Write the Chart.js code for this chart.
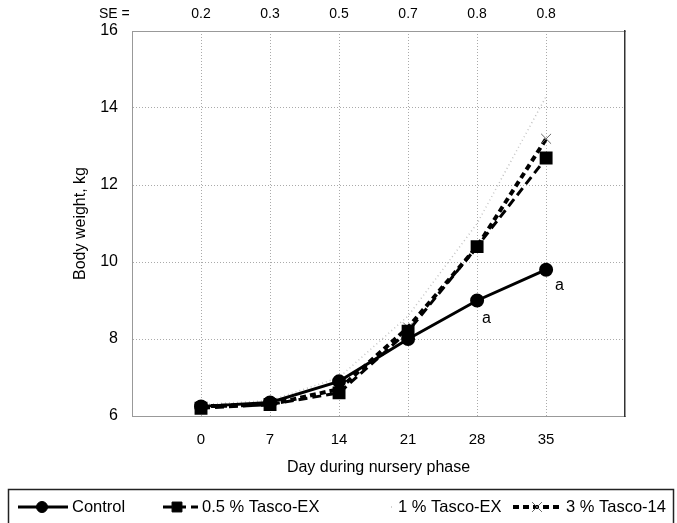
<!DOCTYPE html>
<html>
<head>
<meta charset="utf-8">
<script src="https://cdn.jsdelivr.net/npm/chart.js@4.4.0/dist/chart.umd.min.js"></script>
<style>
html,body{margin:0;padding:0;background:#fff;}
#wrap{width:677px;height:523px;position:relative;}
</style>
</head>
<body>
<div id="wrap"><canvas id="c" width="677" height="523"></canvas></div>
<script>
// ---- data ----
const days = [0, 7, 14, 21, 28, 35];
const seLabels = ['0.2', '0.3', '0.5', '0.7', '0.8', '0.8'];
const yTicks = [6, 8, 10, 12, 14, 16];
const control = [6.25, 6.35, 6.9, 8.0, 9.0, 9.8];
const tasco05 = [6.2, 6.3, 6.6, 8.2, 10.4, 12.7];
const tasco1 = [6.3, 6.4, 7.0, 8.6, 11.0, 14.3];
const tasco3 = [6.25, 6.3, 6.7, 8.3, 10.4, 13.2];
const seriesNames = ['Control', '0.5 % Tasco-EX', '1 % Tasco-EX', '3 % Tasco-14'];
const sigMarks = [{dayIndex: 4, text: 'a'}, {dayIndex: 5, text: 'a'}];

const FONT = '"Liberation Sans", Arial, sans-serif';
const pts = arr => arr.map((v, i) => ({x: days[i], y: v}));

const datasets = [
  {label: seriesNames[0], data: pts(control), borderColor: '#000', backgroundColor: '#000',
   borderWidth: 3, pointStyle: 'circle', pointRadius: 5.5, order: 1},
  {label: seriesNames[1], data: pts(tasco05), borderColor: '#000', backgroundColor: '#000',
   borderWidth: 3, borderDash: [9, 5], pointStyle: 'rect', pointRadius: 7, order: 2},
  {label: seriesNames[2], data: pts(tasco1), borderColor: 'rgba(170,170,170,0.7)', backgroundColor: 'rgba(170,170,170,0.7)',
   borderWidth: 1.5, borderDash: [1, 3], pointRadius: 0, order: 4},
  {label: seriesNames[3], data: pts(tasco3), borderColor: '#000', backgroundColor: '#000',
   borderWidth: 4, borderDash: [6, 4], pointStyle: 'crossRot', pointRadius: 7,
   pointBorderColor: '#666', pointBorderWidth: 1, order: 3}
];

const extrasPlugin = {
  id: 'extras',
  afterDraw(chart) {
    const ctx = chart.ctx;
    const xs = chart.scales.x, ys = chart.scales.y;
    ctx.save();
    // SE label
    ctx.fillStyle = '#000';
    ctx.font = '14px ' + FONT;
    ctx.textBaseline = 'middle';
    ctx.textAlign = 'left';
    ctx.fillText('SE =', 99, 14);
    // significance letters
    ctx.font = '16px ' + FONT;
    sigMarks.forEach(m => {
      const px = xs.getPixelForValue(days[m.dayIndex]);
      const py = ys.getPixelForValue(control[m.dayIndex]);
      const dx = m.dayIndex === 5 ? 9 : 5;
      const dy = m.dayIndex === 5 ? 16 : 18;
      ctx.fillText(m.text, px + dx, py + dy);
    });
    // legend box
    ctx.strokeStyle = '#222';
    ctx.lineWidth = 1.5;
    ctx.strokeRect(8.5, 489.5, 665, 50);
    const ly = 507;
    const items = [
      {x0: 18, x1: 68, mx: 42, tx: 72, ds: datasets[0]},
      {x0: 163, x1: 198, mx: 177, tx: 202, ds: datasets[1]},
      {x0: 391, x1: 394, mx: null, tx: 398, ds: datasets[2]},
      {x0: 513, x1: 563, mx: 537, tx: 566, ds: datasets[3]}
    ];
    items.forEach(it => {
      const ds = it.ds;
      ctx.save();
      ctx.strokeStyle = ds.borderColor;
      ctx.lineWidth = ds.borderWidth;
      ctx.setLineDash(ds.borderDash || []);
      ctx.beginPath();
      ctx.moveTo(it.x0, ly); ctx.lineTo(it.x1, ly);
      ctx.stroke();
      ctx.restore();
      if (it.mx !== null) {
        ctx.save();
        ctx.fillStyle = ds.backgroundColor;
        ctx.strokeStyle = ds.pointBorderColor || ds.borderColor;
        ctx.lineWidth = ds.pointBorderWidth || 1;
        Chart.helpers.drawPoint(ctx, {pointStyle: ds.pointStyle, radius: ds.pointRadius, rotation: 0, borderWidth: 1}, it.mx, ly);
        ctx.restore();
      }
      ctx.fillStyle = '#000';
      ctx.font = '16.5px ' + FONT;
      ctx.textAlign = 'left';
      ctx.textBaseline = 'middle';
      ctx.fillText(ds.label, it.tx, ly);
    });
    ctx.restore();
  }
};

new Chart(document.getElementById('c'), {
  type: 'line',
  data: {datasets},
  plugins: [extrasPlugin],
  options: {
    responsive: false,
    animation: false,
    layout: {padding: {left: 10, right: 52, top: 0, bottom: 43}},
    plugins: {legend: {display: false}, tooltip: {enabled: false}},
    scales: {
      x: {
        type: 'linear', position: 'bottom', min: -7, max: 43,
        afterBuildTicks: s => { s.ticks = days.map(v => ({value: v})); },
        ticks: {color: '#000', font: {family: FONT, size: 15}, padding: 15},
        grid: {color: '#aaa', lineWidth: 1, drawTicks: false},
        border: {color: '#999', dash: [1, 2]},
        title: {display: true, text: 'Day during nursery phase', color: '#000',
                font: {family: FONT, size: 16}, padding: {top: 4, bottom: 3}},
        afterFit: s => { s.height = 64; }
      },
      x2: {
        type: 'linear', position: 'top', min: -7, max: 43,
        afterBuildTicks: s => { s.ticks = days.map(v => ({value: v})); },
        ticks: {color: '#000', font: {family: FONT, size: 14}, padding: 8,
                callback: v => seLabels[days.indexOf(v)]},
        grid: {display: false, drawTicks: false},
        border: {color: '#999', dash: [1, 2]},
        afterFit: s => { s.height = 31; }
      },
      y: {
        type: 'linear', min: 6, max: 16,
        afterBuildTicks: s => { s.ticks = yTicks.map(v => ({value: v})); },
        ticks: {color: '#000', font: {family: FONT, size: 16}, padding: 14},
        grid: {color: '#aaa', lineWidth: 1, drawTicks: false},
        border: {color: '#999', dash: [1, 2]},
        title: {display: true, text: 'Body weight, kg', color: '#000',
                font: {family: FONT, size: 16}, padding: {top: 61, bottom: 0}},
        afterFit: s => { s.width = 122; }
      },
      y2: {
        type: 'linear', position: 'right', min: 6, max: 16,
        ticks: {display: false}, grid: {display: false, drawTicks: false},
        border: {color: '#333', width: 1.5},
        afterFit: s => { s.width = 0; }
      }
    }
  }
});
</script>
</body>
</html>
